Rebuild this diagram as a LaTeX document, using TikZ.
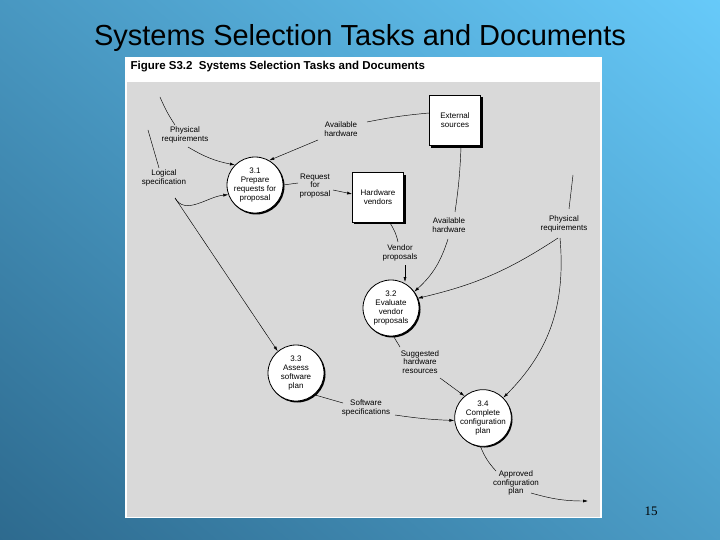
\documentclass[tikz,border=0pt]{standalone}
\usepackage{fontspec}
\setmainfont{Liberation Sans}
\newfontfamily\serifnum{Liberation Serif}
\usetikzlibrary{arrows.meta}
\definecolor{bgA}{RGB}{104,204,252}
\definecolor{bgB}{RGB}{44,104,140}
\begin{document}
\begin{tikzpicture}[x=1pt,y=-1pt,
  lbl/.style={align=center,font=\fontsize{8}{8.6}\selectfont,inner sep=0pt},
  proc/.style={circle,draw=black,fill=white,line width=0.8pt,minimum size=56pt,inner sep=0pt,align=center,font=\fontsize{8}{8.8}\selectfont},
  ent/.style={rectangle,draw=black,fill=white,line width=0.8pt,minimum width=51pt,minimum height=50pt,inner sep=0pt,align=center,font=\fontsize{8}{8.8}\selectfont},
  flow/.style={line width=0.45pt},
  arr/.style={flow,-{Latex[length=5pt,width=3pt]}}]
\useasboundingbox (0,0) rectangle (720,540);
\begin{scope}
\clip (0,0) rectangle (720,540);
\shade[left color=bgA,right color=bgB,shading angle=-40] (-100,-190) rectangle (820,730);
\end{scope}
\node[font=\fontsize{29}{32}\selectfont] (title) at (360,38) {Systems Selection Tasks and Documents};
\fill[white] (125,57) rectangle (602,518);
\fill[gray!30] (127,82) rectangle (600,517);
\node[anchor=west,font=\bfseries\fontsize{11.5}{12}\selectfont] (fig) at (127,67) {Figure S3.2\ \ Systems Selection Tasks and Documents};
\node[font=\serifnum\fontsize{13}{14}\selectfont] (pg) at (651,511) {15};
% shadows
\fill (256.2,186.2) circle (28.3);
\fill (392.2,309.2) circle (28.3);
\fill (297.2,374.2) circle (28.3);
\fill (484.2,419.2) circle (28.3);
\fill (431,97) rectangle (483,148);
\fill (354,175) rectangle (406,224);
% nodes
\node[proc] (p31) at (255,185) {3.1\\Prepare\\requests for\\proposal};
\node[proc] (p32) at (391,308) {3.2\\Evaluate\\vendor\\proposals};
\node[proc] (p33) at (296,373) {3.3\\Assess\\software\\plan};
\node[proc] (p34) at (483,418) {3.4\\Complete\\configuration\\plan};
\node[ent] (ext) at (455,120.5) {External\\sources};
\node[ent] (hwv) at (378,197.5) {Hardware\\vendors};
% labels
\node[lbl] (lphys) at (185,135) {Physical\\requirements};
\node[lbl] (lavail) at (341,129) {Available\\hardware};
\node[lbl] (llog) at (164,178) {Logical\\specification};
\node[lbl] (lreq) at (315,186) {Request\\for\\proposal};
\node[lbl] (lavail2) at (449,225) {Available\\hardware};
\node[lbl] (lphys2) at (564,224) {Physical\\requirements};
\node[lbl] (lvend) at (400,253) {Vendor\\proposals};
\node[lbl] (lsug) at (420,362) {Suggested\\hardware\\resources};
\node[lbl] (lsoft) at (366,408) {Software\\specifications};
\node[lbl] (lapp) at (516,483) {Approved\\configuration\\plan};
% free ends
\coordinate (s1) at (160,97);
\coordinate (s2) at (148,130);
\coordinate (s3) at (573,175);
\coordinate (e1) at (588,501);
% flows
\draw[flow] (s1) to[bend right=5] (175,125);
\draw[arr] (188,147) to[bend right=10] (p31.135);
\draw[flow] (s2) -- (159,168);
\draw[arr] (175,198) to[out=-60,in=185] (p31.200);
\draw[arr] (175,198) -- (p33.130);
\draw[flow] (ext.west |- 113,113) to[bend right=3] (367,122);
\draw[arr] (318,140) -- (p31.60);
\draw[flow] (p31.east) -- (298,183);
\draw[arr] (333,190) -- (hwv.west |- 0,194);
\draw[flow] (390,223) to[bend left=10] (398,242);
\draw[arr] (405,265) -- (405,282);
\draw[flow] (461,147) to[bend left=3] (455,212);
\draw[arr] (448,239) to[bend left=15] (p32.35);
\draw[flow] (s3) -- (569,209);
\draw[arr] (558,238) to[bend left=10] (p32.20);
\draw[arr] (560,238) to[out=-85,in=45] (p34.45);
\draw[flow] (p32.-85) -- (400,347);
\draw[arr] (440,378) -- (p34.130);
\draw[flow] (p33.-50) -- (343,403);
\draw[arr] (395,415) to[bend left=-3] (p34.185);
\draw[flow] (p34.-95) to[bend left=-10] (496,471);
\draw[arr] (531,493) to[bend right=8] (e1);
\end{tikzpicture}
\end{document}
